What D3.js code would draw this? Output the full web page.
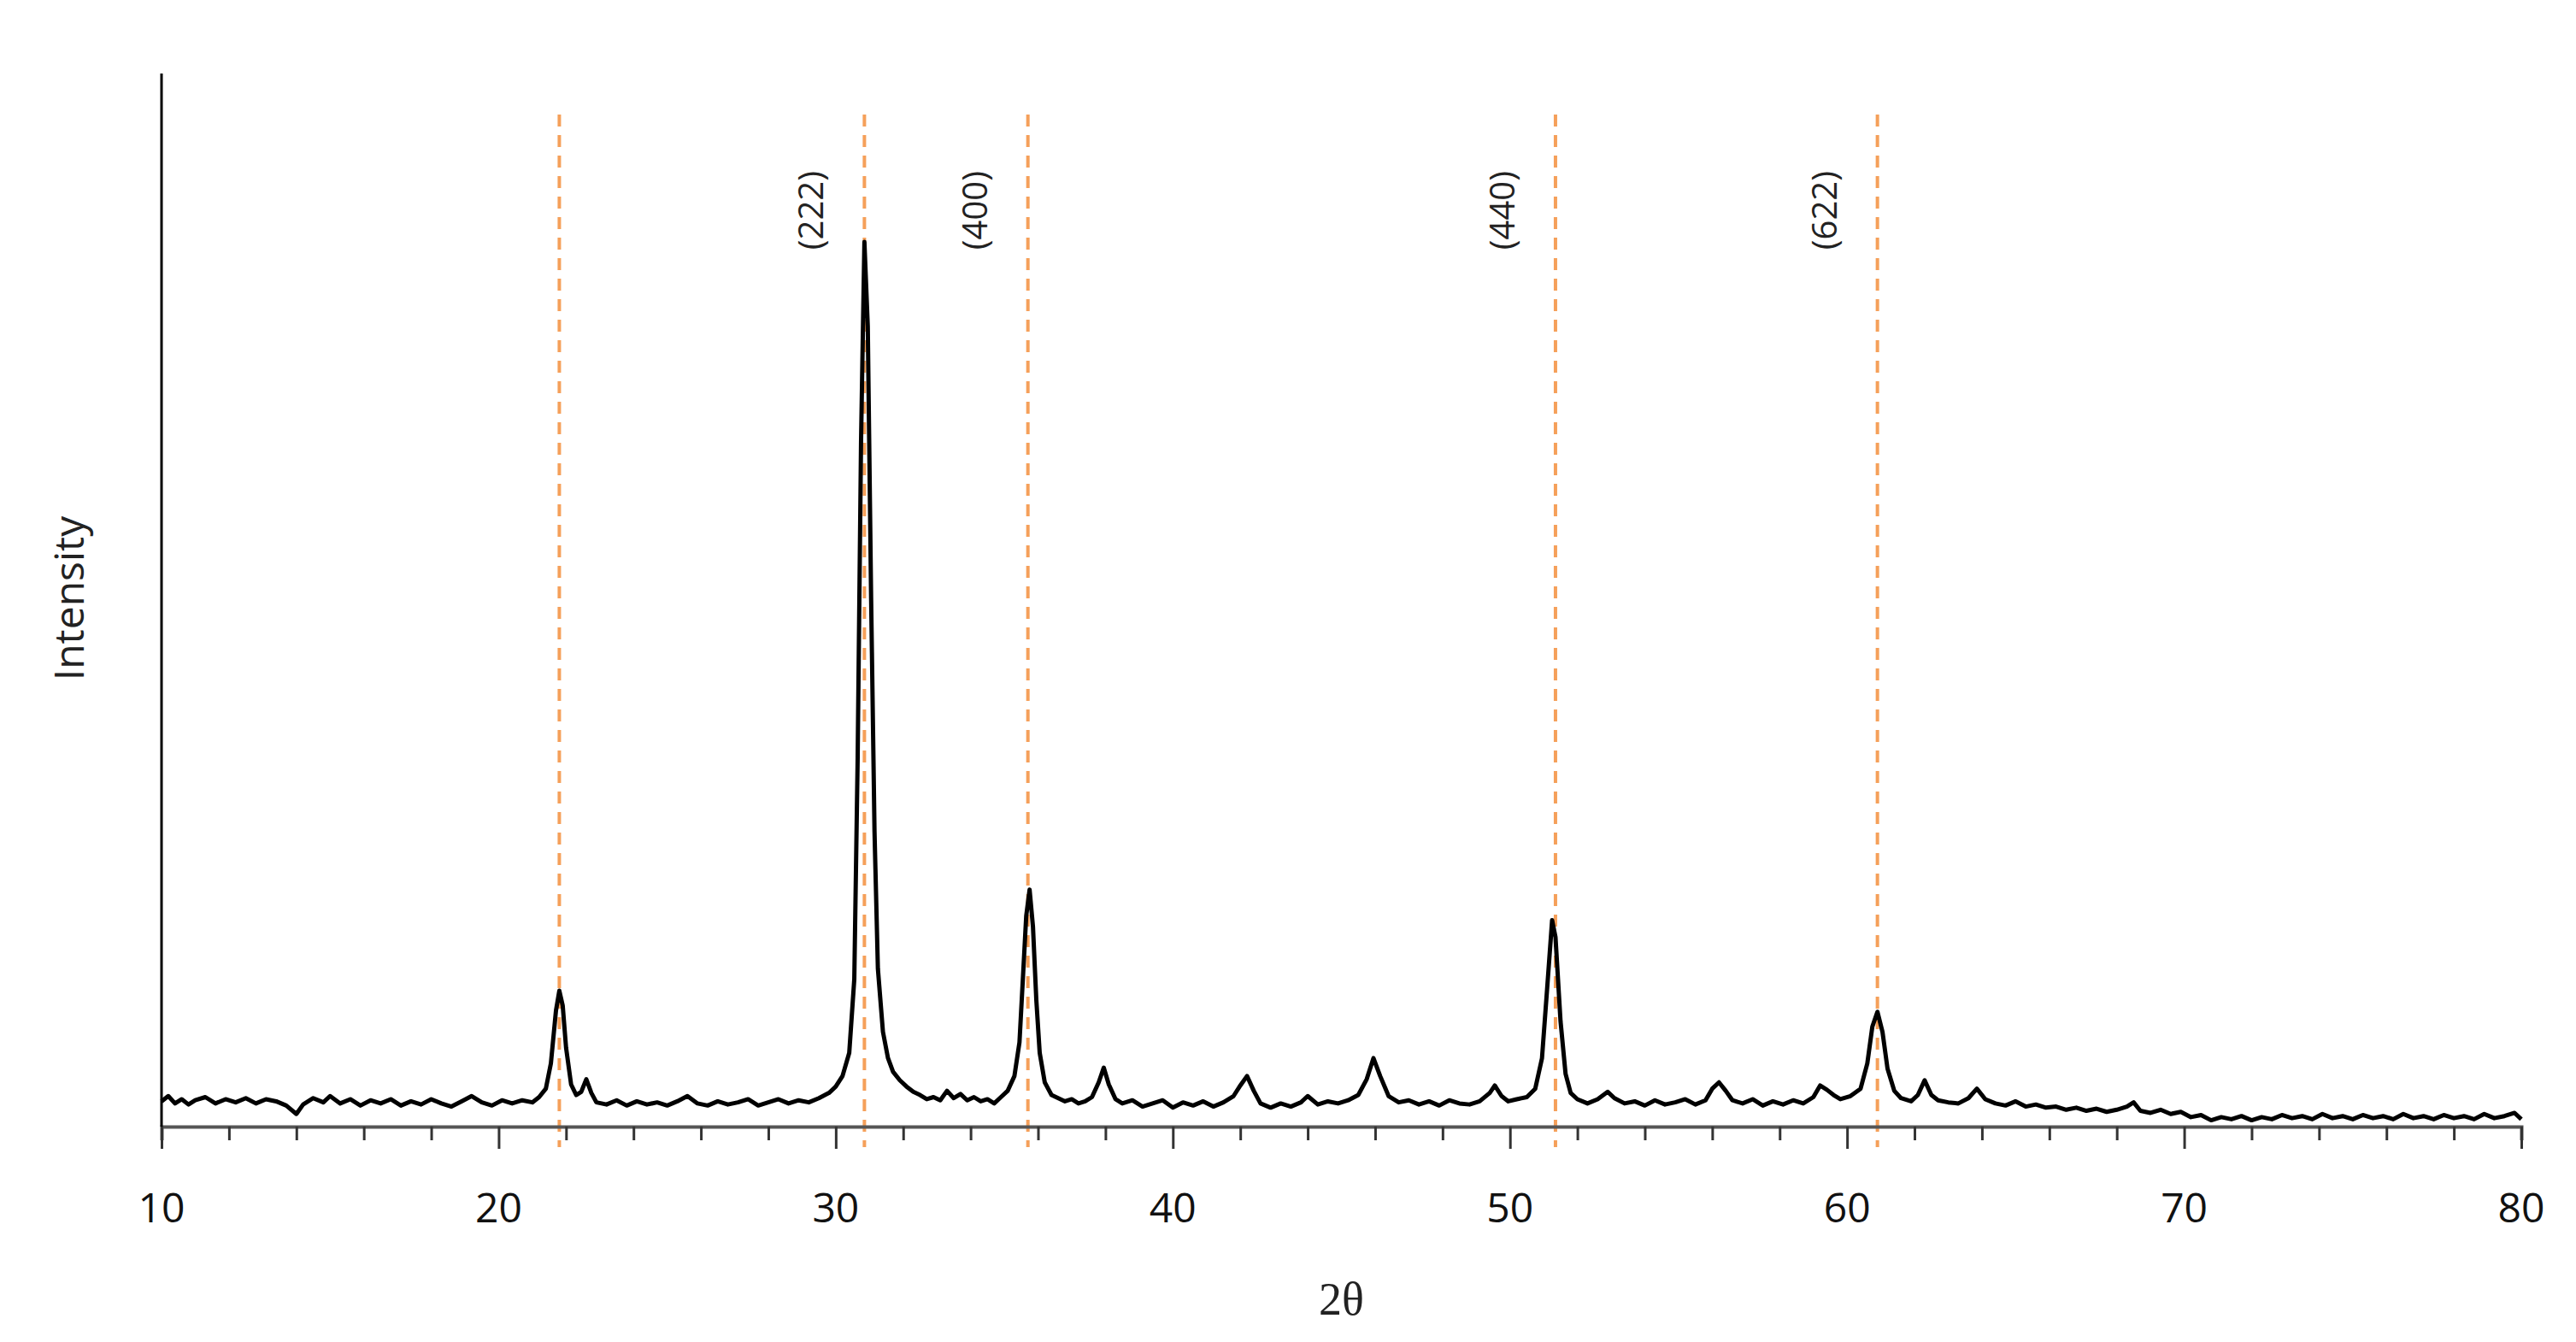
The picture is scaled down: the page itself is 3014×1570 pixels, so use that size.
<!DOCTYPE html>
<html>
<head>
<meta charset="utf-8">
<script src="https://cdn.jsdelivr.net/npm/d3@7"></script>
<style>
  body { margin: 0; background: #fff; }
  text { font-family: "Open Sans", "Noto Sans", sans-serif; }
</style>
</head>
<body>
<div id="chart"></div>
<script>
// 2-theta positions and intensity (arbitrary units, axis top = 100)
var twoTheta = [
  10.0,10.2,10.4,10.6,10.8,11.0,11.3,11.6,11.9,12.2,12.5,12.8,13.1,13.4,13.7,14.0,14.2,14.5,14.8,15.0,
  15.3,15.6,15.9,16.2,16.5,16.8,17.1,17.4,17.7,18.0,18.3,18.6,18.9,19.2,19.5,19.8,20.1,20.4,20.7,21.0,
  21.2,21.4,21.55,21.7,21.8,21.9,22.0,22.15,22.3,22.45,22.6,22.75,22.9,23.2,23.5,23.8,24.1,24.4,24.7,25.0,
  25.3,25.6,25.9,26.2,26.5,26.8,27.1,27.4,27.7,28.0,28.3,28.6,28.9,29.2,29.5,29.8,30.0,30.2,30.4,30.55,
  30.65,30.75,30.85,30.95,31.05,31.15,31.25,31.4,31.55,31.7,31.9,32.1,32.3,32.5,32.7,32.9,33.1,33.3,33.5,33.7,
  33.9,34.1,34.3,34.5,34.7,34.9,35.1,35.3,35.45,35.55,35.65,35.75,35.85,35.95,36.05,36.2,36.4,36.6,36.8,37.0,
  37.2,37.4,37.6,37.8,37.95,38.1,38.3,38.5,38.8,39.1,39.4,39.7,40.0,40.3,40.6,40.9,41.2,41.5,41.8,42.0,
  42.2,42.4,42.6,42.9,43.2,43.5,43.8,44.0,44.3,44.6,44.9,45.2,45.5,45.75,45.95,46.15,46.4,46.7,47.0,47.3,
  47.6,47.9,48.2,48.5,48.8,49.1,49.4,49.55,49.75,49.95,50.2,50.5,50.75,50.95,51.1,51.25,51.35,51.5,51.65,51.8,
  52.0,52.3,52.6,52.9,53.1,53.4,53.7,54.0,54.3,54.6,54.9,55.2,55.5,55.8,56.0,56.2,56.4,56.6,56.9,57.2,
  57.5,57.8,58.1,58.4,58.7,59.0,59.2,59.4,59.6,59.8,60.1,60.4,60.6,60.75,60.9,61.05,61.2,61.4,61.6,61.9,
  62.1,62.3,62.5,62.7,63.0,63.3,63.6,63.85,64.1,64.4,64.7,65.0,65.3,65.6,65.9,66.2,66.5,66.8,67.1,67.4,
  67.7,68.0,68.3,68.5,68.7,69.0,69.3,69.6,69.9,70.2,70.5,70.8,71.1,71.4,71.7,72.0,72.3,72.6,72.9,73.2,
  73.5,73.8,74.1,74.4,74.7,75.0,75.3,75.6,75.9,76.2,76.5,76.8,77.1,77.4,77.7,78.0,78.3,78.6,78.9,79.2,
  79.5,79.8,80.0
];
var intensity = [
  2.4,2.9,2.2,2.6,2.1,2.5,2.8,2.2,2.6,2.3,2.7,2.2,2.6,2.4,2.0,1.2,2.1,2.7,2.3,2.9,
  2.2,2.6,2.0,2.5,2.2,2.6,2.0,2.4,2.1,2.6,2.2,1.9,2.4,2.9,2.3,2.0,2.5,2.2,2.5,2.3,
  2.8,3.6,6.0,11.0,12.9,11.5,7.5,4.0,3.0,3.3,4.5,3.2,2.3,2.1,2.5,2.0,2.4,2.1,2.3,2.0,
  2.4,2.9,2.2,2.0,2.4,2.1,2.3,2.6,2.0,2.3,2.6,2.2,2.5,2.3,2.7,3.2,3.8,4.8,7.0,14,
  35,65,84,76,50,28,15,9,6.5,5.2,4.4,3.8,3.3,3.0,2.6,2.8,2.5,3.4,2.7,3.1,
  2.5,2.8,2.4,2.6,2.2,2.8,3.4,4.8,8,14,20,22.5,19,12,7,4.2,3.0,2.7,2.4,2.6,
  2.2,2.4,2.8,4.2,5.6,4.0,2.6,2.2,2.5,1.9,2.2,2.5,1.8,2.3,2.0,2.4,1.9,2.3,2.9,3.9,
  4.8,3.4,2.2,1.8,2.2,1.9,2.3,2.9,2.1,2.4,2.2,2.5,3.0,4.5,6.5,4.8,2.9,2.3,2.5,2.1,
  2.4,2.0,2.5,2.2,2.1,2.4,3.2,3.9,2.9,2.4,2.6,2.8,3.6,6.5,13,19.6,18,10,5,3.2,
  2.6,2.2,2.6,3.3,2.7,2.2,2.4,2.0,2.5,2.1,2.3,2.6,2.1,2.5,3.6,4.2,3.4,2.5,2.2,2.6,
  2.0,2.4,2.1,2.5,2.2,2.8,3.9,3.5,3.0,2.6,2.9,3.6,6.0,9.5,10.9,9.0,5.5,3.4,2.7,2.4,
  3.0,4.4,3.0,2.5,2.3,2.2,2.7,3.6,2.6,2.2,2.0,2.4,1.9,2.1,1.8,1.9,1.6,1.8,1.5,1.7,
  1.4,1.6,1.9,2.3,1.5,1.3,1.6,1.2,1.4,0.9,1.1,0.6,0.9,0.7,1.0,0.6,0.9,0.7,1.1,0.8,
  1.0,0.7,1.2,0.8,1.0,0.7,1.1,0.8,1.0,0.7,1.2,0.8,1.0,0.7,1.1,0.8,1.0,0.7,1.2,0.8,
  1.0,1.3,0.7
];
var peakPos = [21.8, 30.85, 35.7, 51.35, 60.9];
var peakLabels = ["", "(222)", "(400)", "(440)", "(622)"];
var xTicks = [10, 20, 30, 40, 50, 60, 70, 80];

var width = 3014, height = 1570,
    mLeft = 189, mRight = 2950, mTop = 86, mBottom = 1318;

var x = d3.scaleLinear().domain([10, 80]).range([mLeft, mRight]);
var y = d3.scaleLinear().domain([0, 100]).range([mBottom, mTop]);

var svg = d3.select('#chart')
  .append('svg')
    .attr('width', width)
    .attr('height', height);

// orange reference lines
svg.selectAll('line.ref')
  .data(peakPos)
  .enter().append('line')
    .classed('ref', true)
    .attr('x1', function (d) { return x(d); })
    .attr('x2', function (d) { return x(d); })
    .attr('y1', 134)
    .attr('y2', mBottom + 24)
    .attr('stroke', '#f5a05a')
    .attr('stroke-width', 4)
    .attr('stroke-dasharray', '14,10');

// pattern
var pts = twoTheta.map(function (t, i) { return [t, intensity[i]]; });
svg.append('path')
  .datum(pts)
  .attr('fill', 'none')
  .attr('stroke', '#000')
  .attr('stroke-width', 5)
  .attr('stroke-linejoin', 'round')
  .attr('d', d3.line()
    .defined(function (d) { return d[1] != null; })
    .x(function (d) { return x(d[0]); })
    .y(function (d) { return y(d[1]); }));

// x axis: minor ticks every 2, long ticks every 10
var xAxis = d3.axisBottom(x)
  .tickValues(d3.range(10, 81, 2))
  .tickSize(16)
  .tickFormat('');
var gx = svg.append('g')
  .attr('transform', 'translate(0,' + mBottom + ')')
  .call(xAxis);
gx.select('.domain').attr('stroke', '#555').attr('stroke-width', 4);
gx.selectAll('.tick line').attr('stroke', '#333').attr('stroke-width', 3)
  .attr('y2', function (d) { return d % 10 === 0 ? 26 : 16; });

svg.selectAll('text.xlab')
  .data(xTicks)
  .enter().append('text')
    .classed('xlab', true)
    .attr('x', function (d) { return x(d); })
    .attr('y', mBottom + 112)
    .attr('text-anchor', 'middle')
    .attr('font-size', 48)
    .attr('fill', '#111')
    .text(function (d) { return d; });

// y axis
svg.append('line')
  .attr('x1', mLeft).attr('x2', mLeft)
  .attr('y1', mTop).attr('y2', mBottom)
  .attr('stroke', '#000').attr('stroke-width', 3);

// peak labels
svg.selectAll('text.hkl')
  .data(peakPos.slice(1))
  .enter().append('text')
    .classed('hkl', true)
    .attr('transform', function (d) {
      return 'translate(' + (x(d) - 48) + ',' + 200 + ') rotate(-90)';
    })
    .attr('text-anchor', 'end')
    .attr('font-size', 40)
    .attr('fill', '#222')
    .text(function (d, i) { return peakLabels[i + 1]; });

// axis titles
svg.append('text')
  .attr('x', (mLeft + mRight) / 2)
  .attr('y', 1538)
  .attr('text-anchor', 'middle')
  .style('font-family', '"Liberation Serif", "DejaVu Serif", serif')
  .attr('font-size', 54)
  .attr('fill', '#222')
  .text('2θ');

svg.append('text')
  .attr('transform', 'translate(98,' + 700 + ') rotate(-90)')
  .attr('text-anchor', 'middle')
  .attr('font-size', 48)
  .attr('fill', '#222')
  .text('Intensity');
</script>
</body>
</html>
